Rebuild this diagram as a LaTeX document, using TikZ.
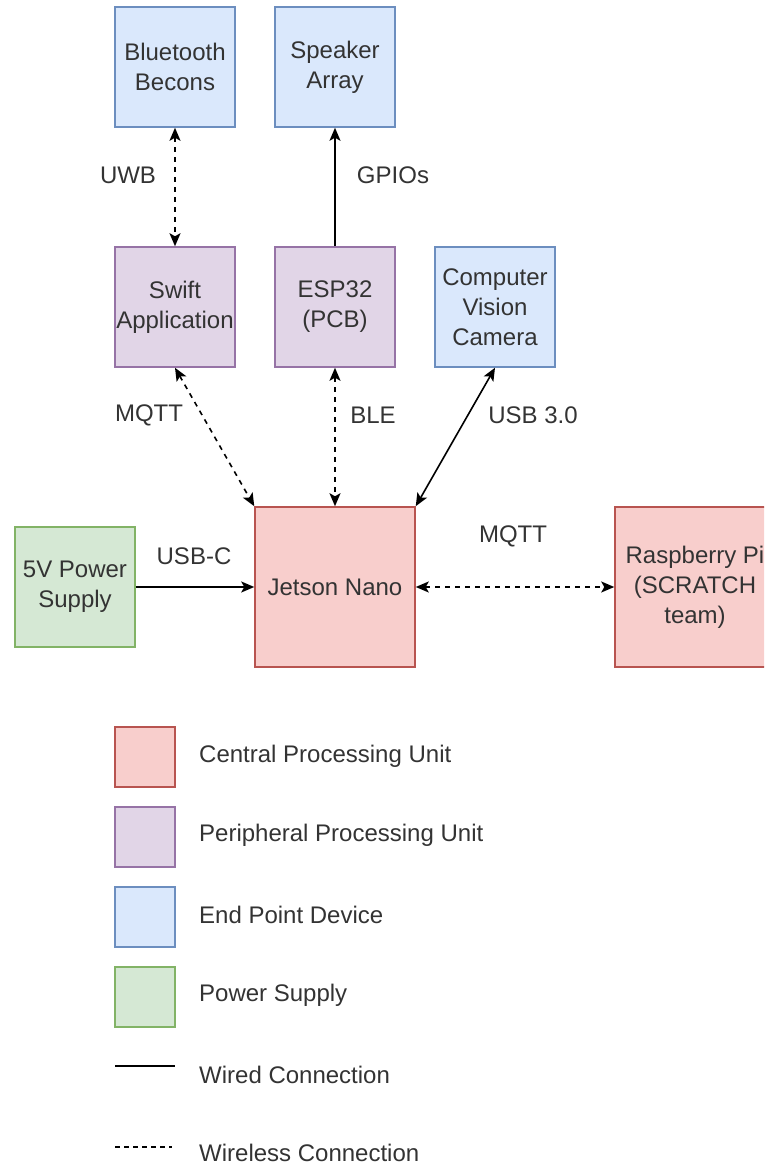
\documentclass[tikz,border=0pt]{standalone}
\usepackage{fontspec}
\setmainfont{Liberation Sans}
\usetikzlibrary{arrows.meta}
\definecolor{redF}{HTML}{F8CECC}\definecolor{redS}{HTML}{B85450}
\definecolor{purF}{HTML}{E1D5E7}\definecolor{purS}{HTML}{9673A6}
\definecolor{bluF}{HTML}{DAE8FC}\definecolor{bluS}{HTML}{6C8EBF}
\definecolor{grnF}{HTML}{D5E8D4}\definecolor{grnS}{HTML}{82B366}
\definecolor{txt}{HTML}{333333}
\tikzset{
  box/.style={draw, line width=1.5pt, minimum width=120pt, minimum height=120pt, inner sep=0pt, align=center, text=txt, font=\fontsize{24}{30}\selectfont},
  big/.style={box, minimum width=160pt, minimum height=160pt},
  cpu/.style={fill=redF, draw=redS},
  ppu/.style={fill=purF, draw=purS},
  epd/.style={fill=bluF, draw=bluS},
  psu/.style={fill=grnF, draw=grnS},
  lbl/.style={text=txt, font=\fontsize{24}{30}\selectfont, inner sep=0pt},
  wired/.style={line width=1.6pt, black},
  wless/.style={line width=1.6pt, black, dash pattern=on 5pt off 5pt},
  tip/.style={-{Stealth[length=13pt,width=11pt,inset=3pt]}},
  tips/.style={{Stealth[length=13pt,width=11pt,inset=3pt]}-{Stealth[length=13pt,width=11pt,inset=3pt]}},
  leg/.style={box, minimum width=60pt, minimum height=60pt},
  legt/.style={lbl, anchor=west}
}
\begin{document}
\begin{tikzpicture}[x=1pt,y=-1pt]
\useasboundingbox (0,0) rectangle (764,1166);
\begin{scope}
\clip (0,0) rectangle (764,1166);
\node[box,epd] (bt) at (175,67) {Bluetooth\\Becons};
\node[box,epd] (spk) at (335,67) {Speaker\\Array};
\node[box,ppu] (swift) at (175,307) {Swift\\Application};
\node[box,ppu] (esp) at (335,307) {ESP32\\(PCB)};
\node[box,epd] (cam) at (495,307) {Computer\\Vision\\Camera};
\node[big,cpu] (jet) at (335,587) {Jetson Nano};
\node[box,psu] (pwr) at (75,587) {5V Power\\Supply};
\node[big,cpu] (rpi) at (695,587) {Raspberry Pi\\(SCRATCH\\team)};

\draw[wless,tips] (bt.south) -- (swift.north);
\draw[wired,tip] (esp.north) -- (spk.south);
\draw[wless,tips] (swift.south) -- (jet.north west);
\draw[wless,tips] (esp.south) -- (jet.north);
\draw[wired,tips] (cam.south) -- (jet.north east);
\draw[wired,tip] (pwr.east) -- (jet.west);
\draw[wless,tips] (jet.east) -- (rpi.west);

\node[lbl] (l1) at (128,175) {UWB};
\node[lbl] (l2) at (393,175) {GPIOs};
\node[lbl] (l3) at (149,415) {MQTT};
\node[lbl] (l4) at (373,415) {BLE};
\node[lbl] (l5) at (533,415) {USB 3.0};
\node[lbl] (l6) at (194,556) {USB-C};
\node[lbl] (l7) at (513,536) {MQTT};

\node[leg,cpu] (k1) at (145,757) {};
\node[leg,ppu] (k2) at (145,837) {};
\node[leg,epd] (k3) at (145,917) {};
\node[leg,psu] (k4) at (145,997) {};
\node[legt] (t1) at (199,756) {Central Processing Unit};
\node[legt] (t2) at (199,835) {Peripheral Processing Unit};
\node[legt] (t3) at (199,915) {End Point Device};
\node[legt] (t4) at (199,995) {Power Supply};
\coordinate (w1) at (115,1066); \coordinate (w2) at (175,1066);
\coordinate (d1) at (115,1147); \coordinate (d2) at (172,1147);
\draw[wired] (w1) -- (w2);
\draw[line width=1.3pt, dash pattern=on 5pt off 4pt] (d1) -- (d2);
\node[legt] (t5) at (199,1075) {Wired Connection};
\node[legt] (t6) at (199,1153) {Wireless Connection};
\end{scope}
\end{tikzpicture}
\end{document}
